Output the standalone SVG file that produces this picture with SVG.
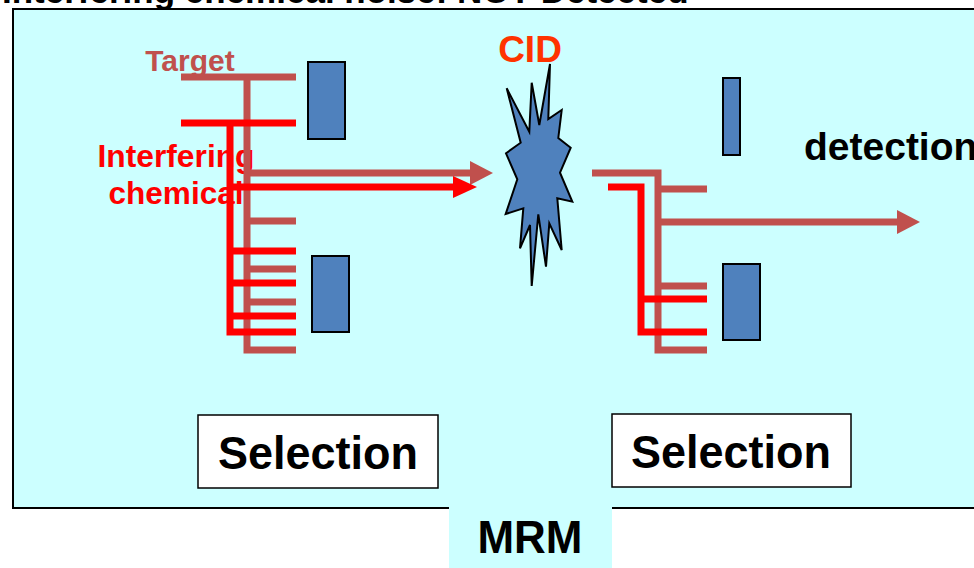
<svg xmlns="http://www.w3.org/2000/svg" width="974" height="568" viewBox="0 0 974 568">
<style>
.t{font-family:"Liberation Sans",Arial,sans-serif;font-weight:bold}
.br{stroke:#C0504D;stroke-width:7;fill:none}
.rd{stroke:#FF0000;stroke-width:7;fill:none}
.blk{fill:#4F81BD;stroke:#000;stroke-width:2}
.sel{fill:#fff;stroke:#000;stroke-width:1.5}
</style>
<rect width="974" height="568" fill="#fff"/>
<text class="t" x="2" y="3" font-size="35" fill="#000">Interfering chemical noise: NOT Detected</text>
<g id="frame">
<rect x="13" y="9" width="975" height="499" fill="#CCFFFF" stroke="#000" stroke-width="2"/>
<rect x="449" y="505" width="163" height="63" fill="#CCFFFF"/>
<text class="t" x="530" y="553" font-size="46" text-anchor="middle" textLength="105" lengthAdjust="spacingAndGlyphs">MRM</text>
</g>
<g id="labels">
<text class="t" x="190" y="71" font-size="30" fill="#C0504D" text-anchor="middle">Target</text>
<text class="t" x="176" y="167" font-size="31" fill="#FF0000" text-anchor="middle" textLength="157" lengthAdjust="spacingAndGlyphs">Interfering</text>
<text class="t" x="176" y="204" font-size="31" fill="#FF0000" text-anchor="middle" textLength="135" lengthAdjust="spacingAndGlyphs">chemical</text>
<text class="t" x="530" y="62" font-size="37" fill="#FF3300" text-anchor="middle">CID</text>
<text class="t" x="804" y="160" font-size="39" fill="#000">detection</text>
</g>
<g id="connectors">
<path class="br" d="M181 77H296M247 77V350H296M247 221H296M247 269H296M247 302H296M247 173H472"/>
<polygon points="470,161 493,173 470,185" fill="#C0504D"/>
<path class="rd" d="M181 123H296M230 123V332H296M230 251H296M230 283H296M230 316H296M230 187H455"/>
<polygon points="453,176 477,187 453,198" fill="#FF0000"/>
<path class="br" d="M592 173H658V350H707M658 189H707M658 286H707M658 222H899"/>
<polygon points="897,210 920,222 897,234" fill="#C0504D"/>
<path class="rd" d="M608 187H641V332H707M641 299H707"/>
</g>
<g id="quad1">
<rect class="blk" x="308" y="62" width="37" height="77"/>
<rect class="blk" x="312" y="256" width="37" height="76"/>
</g>
<g id="cid">
<polygon fill="#4F81BD" stroke="#000" stroke-width="2" stroke-linejoin="miter" points="550,64 548.3,119 561.7,110 558.3,138 570.7,147.7 560,172.7 572.3,201.7 557.3,198.3 561.7,250 549.3,223.3 546,266.7 538.3,214.3 531.7,286 530,225 520,248.3 523.3,208.3 505.7,214 517.3,179.3 506,153.3 520.7,142.7 506.7,88.3 529.3,131.7 531.7,82.7 539.3,125"/>
</g>
<g id="quad3">
<rect class="blk" x="723" y="78" width="17" height="77"/>
<rect class="blk" x="723" y="264" width="37" height="76"/>
</g>
<g id="sel1">
<rect class="sel" x="198" y="415" width="240" height="73"/>
<text class="t" x="318" y="469" font-size="46" text-anchor="middle" textLength="200" lengthAdjust="spacingAndGlyphs">Selection</text>
</g>
<g id="sel2">
<rect class="sel" x="612" y="414" width="239" height="73"/>
<text class="t" x="731" y="468" font-size="46" text-anchor="middle" textLength="200" lengthAdjust="spacingAndGlyphs">Selection</text>
</g>
</svg>
